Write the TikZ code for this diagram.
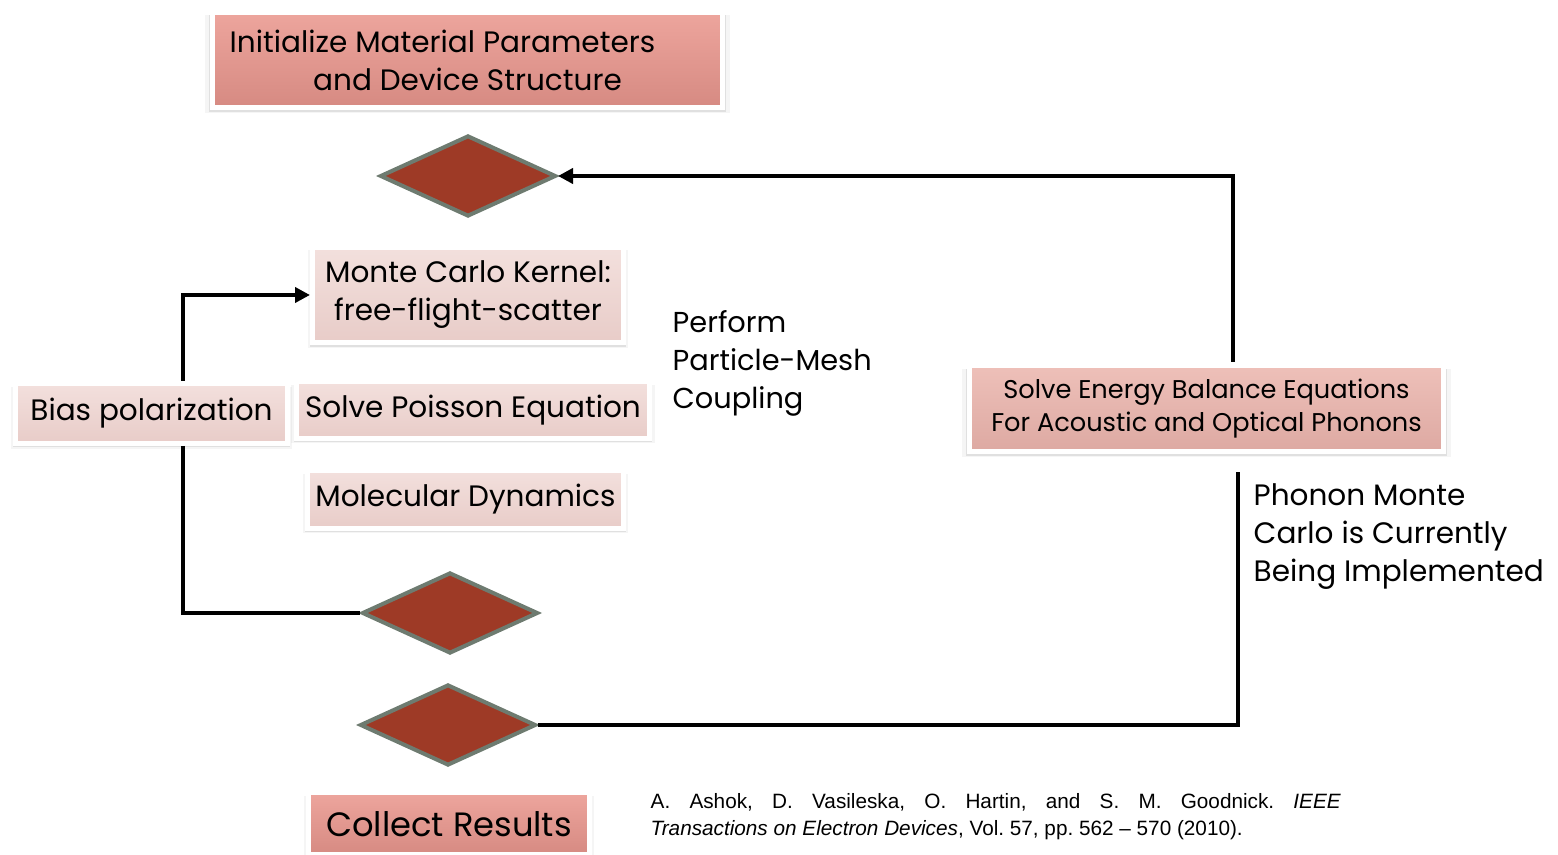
\documentclass[tikz,border=0pt]{standalone}
\usepackage{fontspec}
\setmainfont{Poppins}
\newfontfamily\citefont{Liberation Sans}
\usepackage{tikz}
\usetikzlibrary{shapes.geometric}
\usetikzlibrary{shadows}
\usetikzlibrary{arrows.meta}
\definecolor{boxdark}{HTML}{D68A82}
\definecolor{boxdarktop}{HTML}{EDA59D}
\definecolor{boxmid}{HTML}{DDA9A2}
\definecolor{boxmidtop}{HTML}{EEC0B9}
\definecolor{boxlight}{HTML}{E8CCC8}
\definecolor{boxlighttop}{HTML}{F3E0DD}
\definecolor{decfill}{HTML}{9E3A26}
\definecolor{decline}{HTML}{6E7B70}
\frenchspacing

\begin{document}
\begin{tikzpicture}[x=1cm,y=1cm,
    every node/.style={font=\fontsize{8.4}{10.8}\selectfont},
    stepbox/.style={rectangle,draw=white,line width=0.05cm,inner sep=0pt,align=center,
        drop shadow={shadow xshift=0cm,shadow yshift=-0.04cm,shadow scale=1.03,opacity=0.08},
        drop shadow={shadow xshift=0cm,shadow yshift=-0.035cm,shadow scale=1.015,opacity=0.18}},
    darkbox/.style={stepbox,top color=boxdarktop,bottom color=boxdark},
    midbox/.style={stepbox,top color=boxmidtop,bottom color=boxmid},
    lightbox/.style={stepbox,top color=boxlighttop,bottom color=boxlight},
    decision/.style={diamond,fill=decfill,draw=decline,line width=0.04cm,inner sep=0pt,
        minimum width=1.76cm,minimum height=0.81cm},
    flow/.style={line width=0.04cm},
    tip/.style={-{Triangle[length=0.15cm,width=0.15cm]}}]

    \useasboundingbox (0,0) rectangle (15.58,-8.55);

    % boxes
    \node[darkbox,minimum width=5.10cm,minimum height=0.95cm] (init) at (4.675,-0.60)
        {Initialize Material Parameters\hspace*{0.5cm}\\and Device Structure};
    \node[lightbox,minimum width=3.11cm,minimum height=0.95cm] (mc) at (4.68,-2.95)
        {Monte Carlo Kernel:\\free-flight-scatter};
    \node[lightbox,minimum width=2.72cm,minimum height=0.60cm] (bias) at (1.515,-4.135)
        {Bias polarization};
    \node[lightbox,minimum width=3.53cm,minimum height=0.57cm] (poisson) at (4.73,-4.10)
        {Solve Poisson Equation};
    \node[lightbox,minimum width=3.16cm,minimum height=0.58cm] (md) at (4.655,-4.995)
        {Molecular Dynamics};
    \node[midbox,minimum width=4.74cm,minimum height=0.86cm,
        font=\fontsize{7.3}{9.4}\selectfont] (energy) at (12.065,-4.09)
        {Solve Energy Balance Equations\\For Acoustic and Optical Phonons};
    \node[darkbox,minimum width=2.81cm,minimum height=0.62cm,
        font=\fontsize{9.6}{12}\selectfont] (collect) at (4.49,-8.24) {Collect Results};

    % decisions
    \node[decision] (d1) at (4.68,-1.76) {};
    \node[decision] (d2) at (4.50,-6.13) {};
    \node[decision] (d3) at (4.48,-7.25) {};

    % plain texts
    \node[anchor=west,align=left,inner sep=0pt,font=\fontsize{8.2}{10.8}\selectfont] (couple) at (6.72,-3.63)
        {Perform\\Particle-Mesh\\Coupling};
    \node[anchor=west,align=left,inner sep=0pt] (phonon) at (12.53,-5.37)
        {Phonon Monte\\Carlo is Currently\\Being Implemented};
    \node[anchor=north west,align=justify,text width=6.90cm,inner sep=0pt,
        font=\citefont\fontsize{5.9}{7.7}\selectfont] (cite) at (6.50,-7.93)
        {A. Ashok, D. Vasileska, O. Hartin, and S. M. Goodnick. \textit{IEEE\linebreak Transactions on Electron Devices}, Vol. 57, pp. 562 – 570 (2010).};

    % corners of the connectors
    \coordinate (bx) at (1.83,-4.12);
    \coordinate (ret) at (12.33,-3.62);
    \coordinate (ph) at (12.38,-4.72);

    \draw[flow,tip] (bx |- bias.north) |- (mc.west);
    \draw[flow] (bx |- bias.south) |- (d2.west);
    \draw[flow,tip] (ret) |- (d1.east);
    \draw[flow] (d3.east) -| (ph);
\end{tikzpicture}
\end{document}
